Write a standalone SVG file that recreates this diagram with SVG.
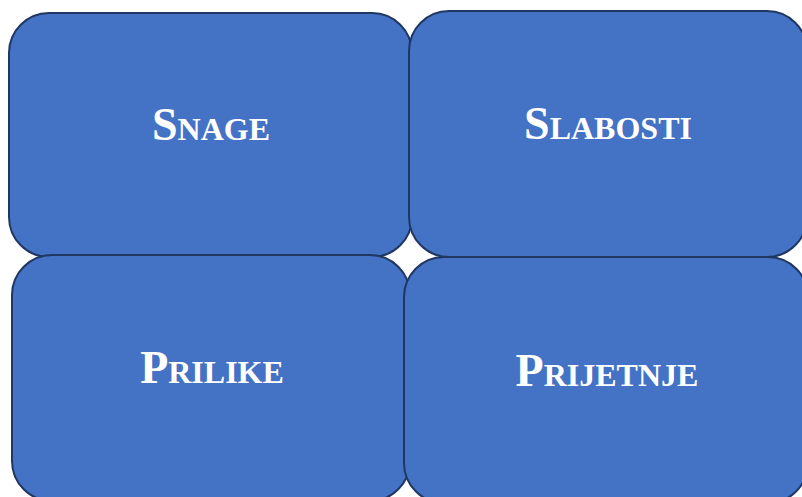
<svg xmlns="http://www.w3.org/2000/svg" width="802" height="497" viewBox="0 0 802 497">
<style>
.box{fill:#4472C4;stroke:#1F3761;stroke-width:2}
.lbl{font-family:"Liberation Serif","Times New Roman",serif;font-weight:bold;font-size:46px;font-variant:small-caps;fill:#FFFFFF;text-anchor:middle}
</style>
<rect width="802" height="497" fill="#FFFFFF"/>
<g id="snage">
<rect class="box" x="9" y="13" width="403" height="244" rx="40" ry="40"/>
<text class="lbl" x="211" y="140">Snage</text>
</g>
<g id="slabosti">
<rect class="box" x="409" y="11" width="398" height="246" rx="40" ry="40"/>
<text class="lbl" x="608" y="139">Slabosti</text>
</g>
<g id="prilike">
<rect class="box" x="12" y="255" width="398" height="246" rx="40" ry="40"/>
<text class="lbl" x="212" y="383">Prilike</text>
</g>
<g id="prijetnje">
<rect class="box" x="404" y="257" width="404" height="246" rx="40" ry="40"/>
<text class="lbl" x="607" y="386">Prijetnje</text>
</g>
<g id="connectors"/>
</svg>
